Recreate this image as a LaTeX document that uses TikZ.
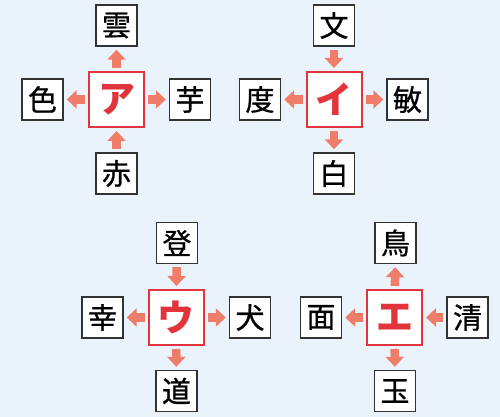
\documentclass[tikz,border=0pt]{standalone}
\usepackage{fontspec}
\newfontfamily\jp{Noto Sans CJK JP}
\newfontfamily\jpm[FakeBold=0.8]{Noto Sans CJK JP}
\usetikzlibrary{arrows.meta}
\definecolor{bgc}{HTML}{EAF3FB}
\definecolor{arrc}{HTML}{EF7D6A}
\definecolor{redc}{HTML}{E2343C}
\definecolor{boxc}{HTML}{333333}
\tikzset{
  x=1pt,y=1pt,
  small/.style={draw=boxc, line width=1.4pt, fill=white, minimum size=41pt, inner sep=0pt, font=\jpm\fontsize{29}{29}\selectfont, text=black},
  big/.style={draw=redc, line width=2pt, fill=white, minimum size=55pt, inner sep=0pt, font=\jp\bfseries\fontsize{37}{37}\selectfont, text=redc},
  fat/.style={draw=arrc, line width=8.5pt, -{Triangle[width=18pt,length=10pt]}, shorten <=3pt, shorten >=3pt}
}
\begin{document}
\begin{tikzpicture}
\fill[bgc] (0,0) rectangle (500,417);
\useasboundingbox (0,0) rectangle (500,417);
% A
\node[big] (A) at (116.5,317.5) {ア};
\node[small] (A1) at (116.5,391.5) {雲};
\node[small] (A2) at (42.5,317.5) {色};
\node[small] (A3) at (190,317.5) {芋};
\node[small] (A4) at (116.5,243.5) {赤};
\draw[fat] (A) -- (A1);
\draw[fat] (A) -- (A2);
\draw[fat] (A) -- (A3);
\draw[fat] (A4) -- (A);
% I
\node[big] (B) at (334,317.5) {イ};
\node[small] (B1) at (334,391.5) {文};
\node[small] (B2) at (260,317.5) {度};
\node[small] (B3) at (407.5,317.5) {敏};
\node[small] (B4) at (334,243.5) {白};
\draw[fat] (B1) -- (B);
\draw[fat] (B) -- (B2);
\draw[fat] (B) -- (B3);
\draw[fat] (B) -- (B4);
% U
\node[big] (C) at (176,99.5) {ウ};
\node[small] (C1) at (177,174) {登};
\node[small] (C2) at (102.5,99.5) {幸};
\node[small] (C3) at (250,99.5) {犬};
\node[small] (C4) at (176.5,26) {道};
\draw[fat] (C1) -- (C);
\draw[fat] (C) -- (C2);
\draw[fat] (C) -- (C3);
\draw[fat] (C) -- (C4);
% E
\node[big] (D) at (394.5,99.5) {エ};
\node[small] (D1) at (395.5,174) {鳥};
\node[small] (D2) at (321,99.5) {面};
\node[small] (D3) at (467.5,99.5) {清};
\node[small] (D4) at (395,26) {玉};
\draw[fat] (D) -- (D1);
\draw[fat] (D) -- (D2);
\draw[fat] (D3) -- (D);
\draw[fat] (D) -- (D4);
\end{tikzpicture}
\end{document}
